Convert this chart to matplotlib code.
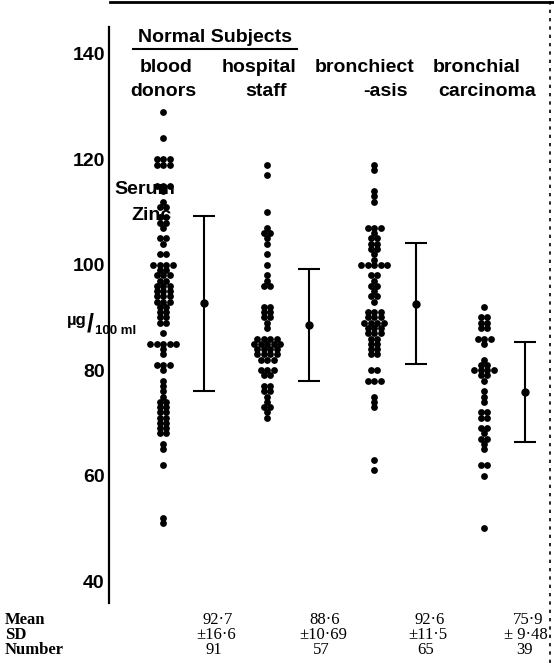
# Serum zinc dot plot, redrawn from a scanned figure
import matplotlib
matplotlib.use("Agg")
import matplotlib.pyplot as plt
from matplotlib.lines import Line2D
from collections import Counter

# Dot values, one per subject
donors = [129, 124, 120, 120, 120, 119, 119, 119, 115, 115, 115, 114, 112, 111, 111,
          109, 109, 108, 108, 107, 105, 105, 104, 102, 102, 100, 100, 100, 100, 99, 99,
          98, 98, 98, 97, 97, 96, 96, 96, 95, 95, 95, 94, 94, 94, 93, 93, 93, 92, 92,
          91, 91, 90, 90, 89, 89, 87, 85, 85, 85, 85, 85, 84, 83, 81, 81, 81, 80, 78,
          77, 76, 75, 74, 74, 73, 73, 72, 72, 71, 71, 70, 70, 69, 69, 68, 68, 66, 65,
          62, 52, 51]
staff = [119, 117, 110, 107, 106, 106, 105, 104, 102, 100, 98, 97, 96, 96, 92, 92, 91,
         91, 90, 90, 89, 88, 86, 86, 86, 86, 85, 85, 85, 85, 85, 84, 84, 84, 84, 83, 83,
         83, 83, 82, 82, 82, 80, 80, 80, 79, 79, 77, 77, 76, 76, 75, 74, 73, 73, 72, 71]
bronchiectasis = [119, 118, 114, 113, 112, 107, 107, 107, 106, 105, 105, 104, 104, 103,
                  103, 102, 101, 100, 100, 100, 100, 100, 98, 98, 97, 96, 96, 95, 94, 94,
                  93, 91, 91, 91, 90, 90, 90, 89, 89, 89, 89, 88, 88, 88, 87, 87, 87, 86,
                  86, 85, 85, 84, 84, 83, 83, 80, 80, 78, 78, 78, 75, 74, 73, 63, 61]
carcinoma = [92, 90, 90, 89, 89, 88, 88, 86, 86, 86, 85, 82, 81, 81, 80, 80, 80, 80, 79,
             79, 78, 76, 75, 74, 72, 72, 71, 71, 69, 69, 68, 67, 67, 66, 65, 62, 62, 60, 50]

means = [92.7, 88.6, 92.6, 75.9]
sds = [16.6, 10.69, 11.5, 9.48]
numbers = [91, 57, 65, 39]
mean_txt = ["92·7", "88·6", "92·6", "75·9"]
sd_txt = ["±16·6", "±10·69", "±11·5", "± 9·48"]
yticks = [40, 60, 80, 100, 120, 140]

groups = [donors, staff, bronchiectasis, carcinoma]

W, H = 554, 663
fig = plt.figure(figsize=(W / 100, H / 100), dpi=100)
ax = fig.add_axes([0, 0, 1, 1])
ax.set_xlim(0, W)
# 140 sits at 54 px from the top, 5.27 px per unit
ax.set_ylim(140 - (H - 54) / 5.27, 140 + 54 / 5.27)
ax.patch.set_visible(False)

for s in ["top", "right", "bottom"]:
    ax.spines[s].set_visible(False)
ax.spines["left"].set_position(("data", 109))
ax.spines["left"].set_bounds(35.8, 145.2)
ax.spines["left"].set_linewidth(1.6)
ax.set_xticks([])
ax.set_yticks(yticks)
ax.set_yticklabels([str(t) for t in yticks], fontfamily="Liberation Sans",
                   fontweight="bold", fontsize=14)
ax.tick_params(axis="y", length=0, pad=3)

dot_x = [163, 267, 374, 484]
bar_x = [204, 309, 416, 525]
step = 6.5

for vals, cx, bx, m, sd in zip(groups, dot_x, bar_x, means, sds):
    cnt = Counter(vals)
    xs, ys = [], []
    for v, k in cnt.items():
        for i in range(k):
            xs.append(cx + (i - (k - 1) / 2) * step)
            ys.append(v)
    ax.scatter(xs, ys, s=24, color="black", linewidths=0)
    ax.errorbar([bx], [m], yerr=[sd], fmt="o", color="black", ms=5,
                elinewidth=1.5, capsize=8, capthick=1.5)

def px(x, y):
    return x / W, 1 - y / H

lab = dict(fontfamily="Liberation Sans", fontweight="bold", fontsize=14,
           ha="center", va="center")
fig.text(*px(215, 38), "Normal Subjects", **lab)
fig.add_artist(Line2D([133 / W, 297 / W], [1 - 49 / H, 1 - 49 / H],
                      color="black", lw=1.5))
fig.text(*px(166, 68), "blood", **lab)
fig.text(*px(163, 91), "donors", **lab)
fig.text(*px(259, 68), "hospital", **lab)
fig.text(*px(266, 91), "staff", **lab)
fig.text(*px(365, 68), "bronchiect", **lab)
fig.text(*px(385, 91), "-asis", **lab)
fig.text(*px(477, 68), "bronchial", **lab)
fig.text(*px(487, 91), "carcinoma", **lab)

fig.text(*px(145, 189), "Serum", **lab)
fig.text(*px(152, 216), "Zinc", **lab)
sm = dict(fontfamily="Liberation Sans", fontweight="bold", va="center")
fig.text(*px(67, 320), "µg", fontsize=12, ha="left", **sm)
fig.text(*px(90, 325), "/", fontsize=18, ha="center", **sm)
fig.text(*px(95, 331), "100 ml", fontsize=9.5, ha="left", **sm)

lbl = dict(fontfamily="Liberation Serif", fontweight="bold", fontsize=12,
           va="center", ha="left")
tab = dict(fontfamily="Liberation Serif", fontsize=12, va="center", ha="center")
fig.text(*px(5, 620), "Mean", **lbl)
fig.text(*px(5, 635), "SD", **lbl)
fig.text(*px(5, 650), "Number", **lbl)
col_x = [218, 325, 430, 528]
for cx, mt, st, n in zip(col_x, mean_txt, sd_txt, numbers):
    fig.text(*px(cx, 620), mt, **tab)
    fig.text(*px(cx - 2, 635), st, **tab)
    fig.text(*px(cx - 4, 650), str(n), **tab)

# scan border marks
fig.add_artist(Line2D([110 / W, 1], [1 - 2 / H, 1 - 2 / H], color="black", lw=2))
fig.add_artist(Line2D([550 / W, 550 / W], [0, 1], color="black", lw=1.2,
                      linestyle=(0, (2, 3))))

fig.savefig("out.png", dpi=100)
